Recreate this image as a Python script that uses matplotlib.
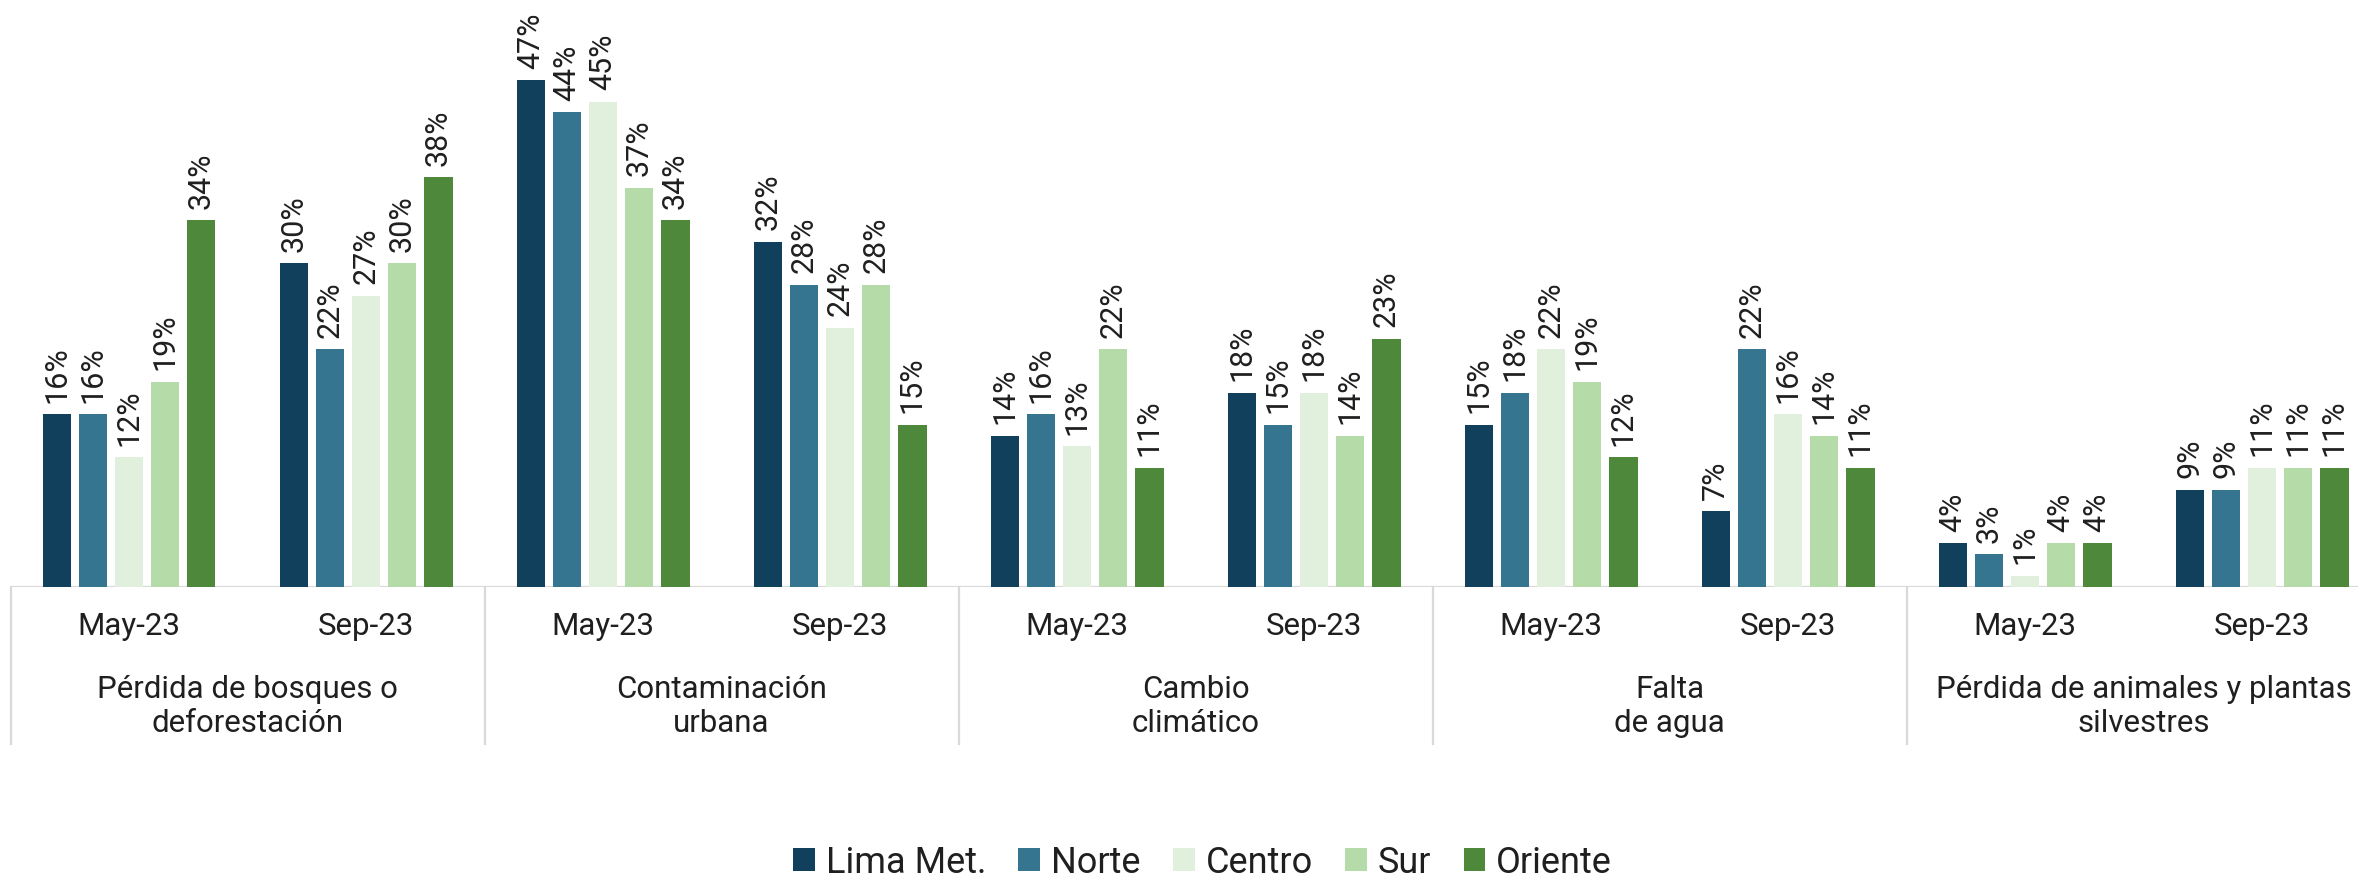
import matplotlib
matplotlib.use("Agg")
import matplotlib.pyplot as plt
import numpy as np
from matplotlib.patches import Patch

plt.rcParams["font.family"] = ["Roboto", "DejaVu Sans"]

TOPICS = [
    "Pérdida de bosques o\ndeforestación",
    "Contaminación\nurbana",
    "Cambio\nclimático",
    "Falta\nde agua",
    "Pérdida de animales y plantas\nsilvestres",
]
PERIODS = ["May-23", "Sep-23"]
REGIONS = ["Lima Met.", "Norte", "Centro", "Sur", "Oriente"]
COLORS = ["#10405C", "#367590", "#E1F0DD", "#B5DBA9", "#4E883A"]

# one value per (topic, period), in topic order, May then Sep
lima = [16, 30, 47, 32, 14, 18, 15, 7, 4, 9]
norte = [16, 22, 44, 28, 16, 15, 18, 22, 3, 9]
centro = [12, 27, 45, 24, 13, 18, 22, 16, 1, 11]
sur = [19, 30, 37, 28, 22, 14, 19, 14, 4, 11]
oriente = [34, 38, 34, 15, 11, 23, 12, 11, 4, 11]
SERIES = [lima, norte, centro, sur, oriente]

TEXT = "#1F1F1F"
GRID = "#D9D9D9"

W, H = 2358, 879
fig = plt.figure(figsize=(W / 100, H / 100), dpi=100)
left = 7 / 1568
bottom = 1 - 391 / 585
ax = fig.add_axes([left, bottom, 1 - left, 1 - bottom])

slot_px = 157.6
n_slots = len(TOPICS) * len(PERIODS)
centers = np.arange(n_slots) + 0.5
step = 24 / slot_px
width = 19 / slot_px

for i, (name, vals, col) in enumerate(zip(REGIONS, SERIES, COLORS)):
    xs = centers + (i - 2) * step
    bars = ax.bar(xs, vals, width=width, color=col, edgecolor="none")
    for b, v in zip(bars, vals):
        ax.annotate(f"{v}%", (b.get_x() + b.get_width() / 2, v),
                    xytext=(0, 9), textcoords="offset points",
                    rotation=90, ha="center", va="bottom",
                    fontsize=22, color=TEXT)

ax.set_xlim(0, (1568 - 7) / slot_px)
ax.set_ylim(0, 391 / 7.17)
ax.axis("off")

ax.axhline(0, color=GRID, lw=1.6, zorder=0)
trans = ax.get_xaxis_transform()
sep_bottom = -(496 - 391) / 391
for k in range(len(TOPICS)):
    ax.plot([2 * k, 2 * k], [0, sep_bottom], color=GRID, lw=1.6,
            transform=trans, clip_on=False)

for s, c in enumerate(centers):
    ax.text(c, -(417 - 391) / 391, PERIODS[s % 2], transform=trans,
            ha="center", va="center", fontsize=22.5, color=TEXT)

for k, topic in enumerate(TOPICS):
    ax.text(2 * k + 1, -(470 - 391) / 391, topic, transform=trans,
            ha="center", va="center", fontsize=22.5, color=TEXT,
            linespacing=1.2)

handles = [Patch(facecolor=c, edgecolor="none", label=r) for r, c in zip(REGIONS, COLORS)]
fig.legend(handles=handles, loc="center", bbox_to_anchor=(0.51, 0.018),
           ncol=5, frameon=False, fontsize=26, handlelength=0.6,
           handleheight=0.6, handletextpad=0.3, columnspacing=0.9,
           labelcolor=TEXT)

fig.savefig("out.png", dpi=100)
